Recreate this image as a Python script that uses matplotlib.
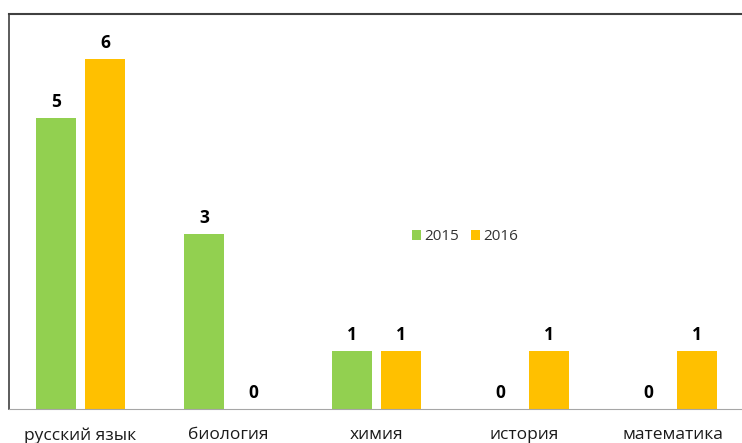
import matplotlib.pyplot as plt
import numpy as np

subjects = ['русский язык', 'биология', 'химия', 'история', 'математика']
years = ['2015', '2016']
v2015 = [5, 3, 1, 0, 0]
v2016 = [6, 0, 1, 1, 1]
colors = ['#92D050', '#FFC000']

plt.rcParams['font.family'] = ['Open Sans', 'DejaVu Sans']

W, H = 742, 443
fig = plt.figure(figsize=(W / 100, H / 100), dpi=100)
ax = fig.add_axes([9 / W, (H - 409) / H, (749 - 9) / W, (409 - 14) / H])

x = np.arange(len(subjects))
bw = 0.27
off = 0.165
for vals, col, lab, d in zip([v2015, v2016], colors, years, [-off, off]):
    bars = ax.bar(x + d, vals, width=bw, color=col, label=lab)
    for b, v in zip(bars, vals):
        ax.annotate(str(v), (b.get_x() + b.get_width() / 2, v),
                    xytext=(0, 5), textcoords='offset points',
                    ha='center', va='bottom', fontsize=12.5, fontweight='bold',
                    color='black')

ax.set_xlim(-0.483, 4.517)
ax.set_ylim(0, 6.78)
ax.set_yticks([])
ax.set_xticks(x)
ax.set_xticklabels(subjects, fontsize=12.5, color='#1a1a1a')
ax.tick_params(axis='x', length=0, pad=13)

ax.spines['left'].set_color('#404040')
ax.spines['top'].set_color('#404040')
ax.spines['left'].set_linewidth(1.2)
ax.spines['top'].set_linewidth(1.5)
ax.spines['right'].set_visible(False)
ax.spines['bottom'].set_color('#a6a6a6')

ax.legend(loc='center', bbox_to_anchor=(465 / W, (H - 237) / H),
          bbox_transform=fig.transFigure, ncol=2, frameon=False,
          fontsize=11, handlelength=0.6, handleheight=0.6,
          handletextpad=0.2, columnspacing=0.8, labelcolor='#333333')

fig.savefig('out.png', dpi=100)
